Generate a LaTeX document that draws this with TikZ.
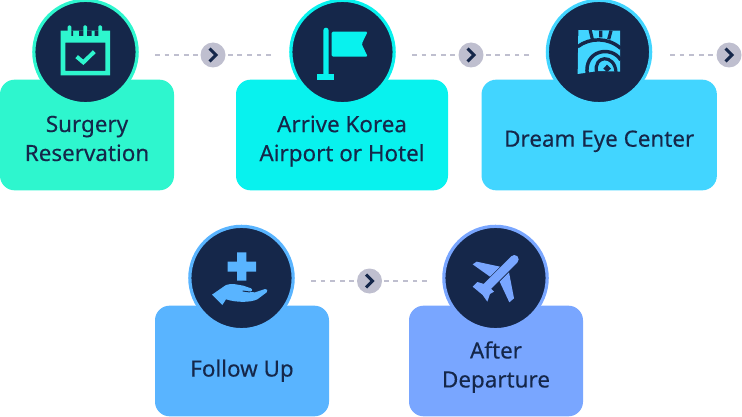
\documentclass[tikz,border=0pt]{standalone}
\usepackage{fontspec}
\setmainfont{Noto Sans}[FakeBold=0.25]
\usetikzlibrary{calc}
\definecolor{navyink}{HTML}{15274A}
\definecolor{stepgreen}{HTML}{2EF6CE}
\definecolor{stepcyan}{HTML}{08F2EE}
\definecolor{stepsky}{HTML}{42D5FF}
\definecolor{stepblue}{HTML}{59B4FF}
\definecolor{stepperi}{HTML}{79A6FF}
\definecolor{dashgrey}{HTML}{BFBFCF}
\begin{document}
\begin{tikzpicture}[x=0.75pt, y=-0.75pt,
    stepbox/.style={rectangle, rounded corners=11pt, minimum height=83pt, inner sep=0pt, text=navyink},
    steptext/.style={font=\fontsize{16.8}{21.75}\selectfont\bfseries, align=center, text=navyink, yshift=-5.8pt,
      execute at begin node=\strut, execute at end node=\strut},
    iconring/.style={circle, fill=navyink, line width=2.4pt, minimum size=77.5pt, inner sep=0pt},
    nextbtn/.style={circle, fill=dashgrey, minimum size=18.75pt, inner sep=0pt},
    link/.style={dashgrey, line width=1.5pt, dash pattern=on 3.6pt off 3.6pt},
    chev/.style={navyink, line width=2.2pt}
]
\useasboundingbox (0,0) rectangle (742,417);

% Boxes
\node[stepbox, fill=stepgreen, minimum width=130.5pt, label={[steptext]center:{Surgery\\Reservation}}] (surgery) at (87,135) {};
\node[stepbox, fill=stepcyan, minimum width=159pt, label={[steptext]center:{Arrive Korea\\Airport or Hotel}}] (arrive) at (342,135) {};
\node[stepbox, fill=stepsky, minimum width=176.5pt, label={[steptext,yshift=1.4pt]center:{Dream Eye Center}}] (dream) at (599.2,135) {};
\node[stepbox, fill=stepblue, minimum width=130.5pt, label={[steptext,yshift=-1.5pt]center:{Follow Up}}] (follow) at (242,361) {};
\node[stepbox, fill=stepperi, minimum width=130.5pt, label={[steptext]center:{After\\Departure}}] (after) at (496,361) {};

% Icon circles
\node[iconring, draw=stepgreen] (surgeryicon) at (85.5,52) {};
\node[iconring, draw=stepcyan] (arriveicon) at (342.5,52) {};
\node[iconring, draw=stepsky] (dreamicon) at (599,52) {};
\node[iconring, draw=stepblue] (followicon) at (241.5,278) {};
\node[iconring, draw=stepperi] (aftericon) at (495.5,278) {};

% Next buttons
\node[nextbtn] (btna) at (213,55) {};
\node[nextbtn] (btnb) at (471,55) {};
\node[nextbtn] (btnc) at (729,55) {};
\node[nextbtn] (btnd) at (369.5,281) {};

% Dashed links
\coordinate (la) at (155,55);
\coordinate (lb) at (271,55);
\coordinate (lc) at (412,55);
\coordinate (ld) at (529,55);
\coordinate (le) at (670,55);
\coordinate (lf) at (311,281);
\coordinate (lg) at (427,281);
\draw[link] (la) -- (btna);
\draw[link] (lb) -- (btna);
\draw[link] (lc) -- (btnb);
\draw[link] (ld) -- (btnb);
\draw[link] (le) -- (btnc);
\draw[link] (lf) -- (btnd);
\draw[link] (lg) -- (btnd);

% Chevrons
\foreach \b in {btna,btnb,btnc,btnd}
  \draw[chev] ($(\b)+(-3.5,-6.5)$) -- ($(\b)+(3,0)$) -- ($(\b)+(-3.5,6.5)$);

% Calendar
\begin{scope}[shift={(0,0)}, x=0.25pt, y=-0.25pt]
\fill[stepgreen, even odd rule] (182,92) -- (330,92) -- (330,226) -- (182,226) -- cycle
  (196,128) -- (316,128) -- (316,213) -- (196,213) -- cycle;
\fill[stepgreen, rounded corners=1pt] (203,76) rectangle (214,100) (250,76) rectangle (261,100) (295,76) rectangle (306,100);
\fill[navyink] (214,92) rectangle (219,108) (237,92) rectangle (250,108) (261,92) rectangle (275,108) (284,92) rectangle (295,108);
\draw[stepgreen, line width=3pt] (230,170) -- (250,187) -- (283,155);
\end{scope}

% Flag
\begin{scope}[shift={(280,0)}, x=0.25pt, y=-0.25pt]
\fill[stepcyan, rounded corners=2pt] (130,230) -- (130,83) -- (146,83) -- (146,230) -- cycle;
\fill[stepcyan] (112,223) rectangle (163,239);
\fill[stepcyan, rounded corners=1pt] (155,95) -- (263,95) -- (245,132) -- (263,170) -- (155,170) -- cycle;
\end{scope}

% Eye logo
\begin{scope}[shift={(530,0)}, x=0.25pt, y=-0.25pt]
\fill[stepsky] (145,90) -- (270,92) -- (270,215) -- (205,213) -- (143,222) -- cycle;
\draw[navyink, line width=2.6pt] (143,140) .. controls (180,112) and (235,112) .. (272,145);
\draw[navyink, line width=2.4pt] (180,88) -- (187,118) (212,92) -- (212,112) (243,92) -- (236,118);
\draw[navyink, line width=2.6pt] (172,224) .. controls (160,150) and (245,135) .. (272,180);
\draw[navyink, line width=2.4pt] (200,218) .. controls (188,165) and (255,160) .. (258,217);
\fill[navyink] (220,206) -- (231,194) -- (243,206) -- (231,216) -- cycle;
\end{scope}

% Hand and cross
\begin{scope}[shift={(150,220)}, x=0.25pt, y=-0.25pt]
\fill[stepblue] (261,97) -- (289,97) -- (289,125) -- (318,125) -- (318,155) -- (289,155) -- (289,182) -- (261,182) -- (261,155) -- (233,155) -- (233,125) -- (261,125) -- cycle;
\fill[stepblue] (186,224) -- (228,195) .. controls (245,188) and (265,195) .. (280,197) -- (303,205) .. controls (310,210) and (305,216) .. (298,216) -- (315,217) -- (345,207) .. controls (352,206) and (355,212) .. (350,217) -- (322,238) .. controls (300,248) and (260,248) .. (228,238) -- (217,255) -- cycle;
\draw[navyink, line width=0.7pt] (278,213) -- (300,216);
\end{scope}

% Plane
\begin{scope}[shift={(390,220)}, x=0.25pt, y=-0.25pt]
\draw[stepperi, line width=6.5pt, line cap=round] (373,118) -- (290,201);
\fill[stepperi] (248,133) -- (260,125) -- (330,140) -- (300,170) -- cycle;
\fill[stepperi] (357,157) -- (372,235) -- (358,247) -- (329,185) -- cycle;
\fill[stepperi] (248,200) -- (262,186) -- (292,195) -- (312,215) -- (300,222) -- (292,245) -- (278,225) -- cycle;
\end{scope}
\end{tikzpicture}
\end{document}
